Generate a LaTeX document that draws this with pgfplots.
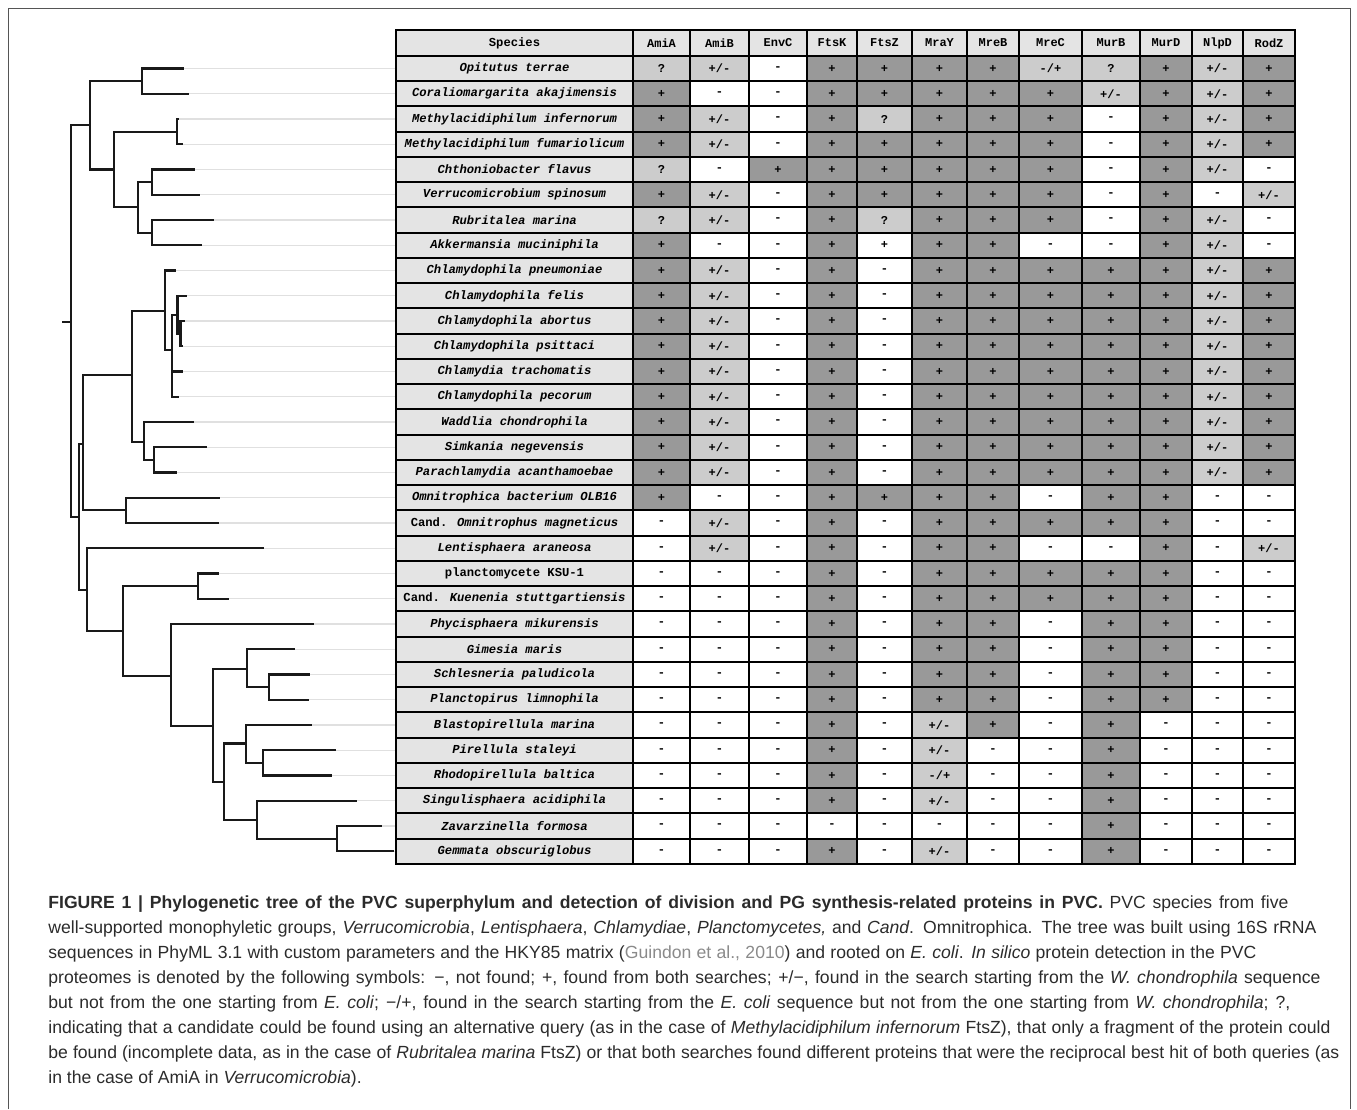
\documentclass[border=0pt]{standalone}
\usepackage{pgfplots}
\pgfplotsset{compat=1.18}
\usepackage{pgfplotstable}
\usepackage{fontspec}
\setmainfont{Liberation Sans}
\newfontfamily\tabfont{Liberation Mono}
\definecolor{dg}{HTML}{999999}
\definecolor{lg}{HTML}{CCCCCC}
\definecolor{sp}{HTML}{E4E4E4}
\definecolor{guide}{HTML}{E0E0E0}
\definecolor{capc}{HTML}{2B2B2B}
\definecolor{citec}{HTML}{8A8A8A}
\definecolor{framec}{HTML}{555555}

\pgfdeclareplotmark{cell}{%
  \pgfpathrectanglecorners{\pgfpoint{-\pgfplotmarksize}{-6.3125pt}}{\pgfpoint{\pgfplotmarksize}{6.3125pt}}%
  \pgfusepathqfillstroke}

\expandafter\def\csname sym@P\endcsname{+}
\expandafter\def\csname sym@p\endcsname{+}
\expandafter\def\csname sym@M\endcsname{-}
\expandafter\def\csname sym@Q\endcsname{?}
\expandafter\def\csname sym@PM\endcsname{+/-}
\expandafter\def\csname sym@MP\endcsname{-/+}
\newcommand\sym[1]{\ifcsname sym@#1\endcsname\csname sym@#1\endcsname\else #1\fi}

% symbols: P = +, p = + (white cell), M = -, Q = ?, PM = +/-, MP = -/+
\pgfplotstableread{
y AmiA AmiB EnvC FtsK FtsZ MraY MreB MreC MurB MurD NlpD RodZ
42.9 AmiA AmiB EnvC FtsK FtsZ MraY MreB MreC MurB MurD NlpD RodZ
68.5 Q PM M P P P P MP Q P PM P
93.75 P M M P P P P P PM P PM P
119 P PM M P Q P P P M P PM P
144.25 P PM M P P P P P M P PM P
169.5 Q M P P P P P P M P PM M
194.75 P PM M P P P P P M P M PM
220 Q PM M P Q P P P M P PM M
245.25 P M M P p P P M M P PM M
270.5 P PM M P M P P P P P PM P
295.75 P PM M P M P P P P P PM P
321 P PM M P M P P P P P PM P
346.25 P PM M P M P P P P P PM P
371.5 P PM M P M P P P P P PM P
396.75 P PM M P M P P P P P PM P
422 P PM M P M P P P P P PM P
447.25 P PM M P M P P P P P PM P
472.5 P PM M P M P P P P P PM P
497.75 P M M P P P P M P P M M
523 M PM M P M P P P P P M M
548.25 M PM M P M P P M M P M PM
573.5 M M M P M P P P P P M M
598.75 M M M P M P P P P P M M
624 M M M P M P P M P P M M
649.25 M M M P M P P M P P M M
674.5 M M M P M P P M P P M M
699.75 M M M P M P P M P P M M
725 M M M P M PM P M P M M M
750.25 M M M P M PM M M P M M M
775.5 M M M P M MP M M P M M M
800.75 M M M P M PM M M P M M M
826 M M M M M M M M P M M M
851.25 M M M P M PM M M P M M M
}\cells

% cell shading: 0 white, 1 light grey, 2 dark grey, 3 header
\pgfplotstableread{
y AmiA AmiB EnvC FtsK FtsZ MraY MreB MreC MurB MurD NlpD RodZ
42.9 3 3 3 3 3 3 3 3 3 3 3 3
68.5 1 1 0 2 2 2 2 1 1 2 1 2
93.75 2 0 0 2 2 2 2 2 1 2 1 2
119 2 1 0 2 1 2 2 2 0 2 1 2
144.25 2 1 0 2 2 2 2 2 0 2 1 2
169.5 1 0 2 2 2 2 2 2 0 2 1 0
194.75 2 1 0 2 2 2 2 2 0 2 0 1
220 1 1 0 2 1 2 2 2 0 2 1 0
245.25 2 0 0 2 0 2 2 0 0 2 1 0
270.5 2 1 0 2 0 2 2 2 2 2 1 2
295.75 2 1 0 2 0 2 2 2 2 2 1 2
321 2 1 0 2 0 2 2 2 2 2 1 2
346.25 2 1 0 2 0 2 2 2 2 2 1 2
371.5 2 1 0 2 0 2 2 2 2 2 1 2
396.75 2 1 0 2 0 2 2 2 2 2 1 2
422 2 1 0 2 0 2 2 2 2 2 1 2
447.25 2 1 0 2 0 2 2 2 2 2 1 2
472.5 2 1 0 2 0 2 2 2 2 2 1 2
497.75 2 0 0 2 2 2 2 0 2 2 0 0
523 0 1 0 2 0 2 2 2 2 2 0 0
548.25 0 1 0 2 0 2 2 0 0 2 0 1
573.5 0 0 0 2 0 2 2 2 2 2 0 0
598.75 0 0 0 2 0 2 2 2 2 2 0 0
624 0 0 0 2 0 2 2 0 2 2 0 0
649.25 0 0 0 2 0 2 2 0 2 2 0 0
674.5 0 0 0 2 0 2 2 0 2 2 0 0
699.75 0 0 0 2 0 2 2 0 2 2 0 0
725 0 0 0 2 0 1 2 0 2 0 0 0
750.25 0 0 0 2 0 1 0 0 2 0 0 0
775.5 0 0 0 2 0 1 0 0 2 0 0 0
800.75 0 0 0 2 0 1 0 0 2 0 0 0
826 0 0 0 0 0 0 0 0 2 0 0 0
851.25 0 0 0 2 0 1 0 0 2 0 0 0
}\fills

\pgfplotstableread[col sep=comma]{
y,tip,name
42.9,396,\textup{Species}
68.5,183,Opitutus terrae
93.75,188,Coraliomargarita akajimensis
119,178,Methylacidiphilum infernorum
144.25,181.7,Methylacidiphilum fumariolicum
169.5,194,Chthoniobacter flavus
194.75,199,Verrucomicrobium spinosum
220,212.7,Rubritalea marina
245.25,201,Akkermansia muciniphila
270.5,175,Chlamydophila pneumoniae
295.75,186,Chlamydophila felis
321,184,Chlamydophila abortus
346.25,181.5,Chlamydophila psittaci
371.5,181.7,Chlamydia trachomatis
396.75,178.3,Chlamydophila pecorum
422,192.7,Waddlia chondrophila
447.25,206,Simkania negevensis
472.5,176,Parachlamydia acanthamoebae
497.75,219.3,Omnitrophica bacterium OLB16
523,218.3,\textup{Cand.} Omnitrophus magneticus
548.25,263.3,Lentisphaera araneosa
573.5,218.3,\textup{planctomycete KSU-1}
598.75,227.7,\textup{Cand.} Kuenenia stuttgartiensis
624,312.7,Phycisphaera mikurensis
649.25,294.3,Gimesia maris
674.5,309.3,Schlesneria paludicola
699.75,308.3,Planctopirus limnophila
725,310.7,Blastopirellula marina
750.25,335,Pirellula staleyi
775.5,330.7,Rhodopirellula baltica
800.75,356,Singulisphaera acidiphila
826,381,Zavarzinella formosa
851.25,392.7,Gemmata obscuriglobus
}\species

\newcommand\col[3]{%
  \addplot[scatter, only marks, mark=cell, mark size=#3pt, point meta=explicit,
    point meta min=0, point meta max=3,
    scatter/use mapped color={draw=black, fill=mapped color},
    mark options={line width=0.9pt}] table[x expr=#2, y=y, meta=#1] {\fills};
  \addplot[draw=none, mark=none, point meta=explicit symbolic,
    nodes near coords={\sym{\pgfplotspointmeta}}, nodes near coords align=center,
    every node near coord/.append style={font=\tabfont\bfseries\fontsize{6}{7}\selectfont, text=black, inner sep=0pt}]
    table[x expr=#2, y=y, meta=#1] {\cells};
}

\begin{document}
\begin{tikzpicture}
\begin{axis}[
  scale only axis, width=678.5pt, height=554.5pt,
  xmin=0, xmax=1357, ymin=0, ymax=1109, y dir=reverse,
  hide axis, clip=false,
  colormap={cellmap}{color=(white) color=(lg) color=(dg) color=(sp)},
  tree/.style={black!90, line width=1.05pt, mark=none, line cap=rect},
]
\path (axis cs:0,0) rectangle (axis cs:1357,1109);

% guide lines from leaf tips to the table
\addplot[draw=none, mark=none, error bars/.cd, x dir=plus, x explicit, error mark=none,
  error bar style={guide, line width=0.6pt}] table[x=tip, y=y, x error expr=396-\thisrow{tip}] {\species};

% tree
\addplot[tree] coordinates {(63.3,321.7) (71,321.7)};
\addplot[tree] coordinates {(90,125.3) (71,125.3) (71,517.3) (79,517.3)};
\addplot[tree] coordinates {(183,68.5) (142,68.5) (142,93.75) (188,93.75)};
\addplot[tree] coordinates {(142,81.1) (90,81.1) (90,169.5) (114.3,169.5)};
\addplot[tree] coordinates {(176.7,131.6) (114.3,131.6) (114.3,207.4) (137.7,207.4)};
\addplot[tree] coordinates {(178,119) (176.7,119) (176.7,144.25) (181.7,144.25)};
\addplot[tree] coordinates {(151.7,182.1) (137.7,182.1) (137.7,232.6) (152.3,232.6)};
\addplot[tree] coordinates {(194,169.5) (151.7,169.5) (151.7,194.75) (199,194.75)};
\addplot[tree] coordinates {(212.7,220) (152.3,220) (152.3,245.25) (201,245.25)};
\addplot[tree] coordinates {(83.3,444) (79,444) (79,590) (87.3,590)};
\addplot[tree] coordinates {(132.3,375) (83.3,375) (83.3,510.4) (126,510.4)};
\addplot[tree] coordinates {(219.3,497.75) (126,497.75) (126,523) (218.3,523)};
\addplot[tree] coordinates {(165,311) (132.3,311) (132.3,441.7) (144,441.7)};
\addplot[tree] coordinates {(175,270.5) (165,270.5) (165,350) (171.7,350)};
\addplot[tree] coordinates {(177.5,315) (171.7,315) (171.7,396.75) (178.3,396.75)};
\addplot[tree] coordinates {(171.7,371.5) (181.7,371.5)};
\addplot[tree] coordinates {(186,295.75) (177.5,295.75) (177.5,334) (180.5,334)};
\addplot[tree] coordinates {(184,321) (180.5,321) (180.5,346.25) (181.5,346.25)};
\addplot[tree] coordinates {(192.7,422) (144,422) (144,460) (154.3,460)};
\addplot[tree] coordinates {(206,447.25) (154.3,447.25) (154.3,472.5) (176,472.5)};
\addplot[tree] coordinates {(263.3,548.25) (87.3,548.25) (87.3,631) (123.3,631)};
\addplot[tree] coordinates {(198.3,586.1) (123.3,586.1) (123.3,675.7) (170.7,675.7)};
\addplot[tree] coordinates {(218.3,573.5) (198.3,573.5) (198.3,598.75) (227.7,598.75)};
\addplot[tree] coordinates {(312.7,624) (170.7,624) (170.7,725.7) (213.3,725.7)};
\addplot[tree] coordinates {(246.7,668.6) (213.3,668.6) (213.3,781.7) (224,781.7)};
\addplot[tree] coordinates {(294.3,649.25) (246.7,649.25) (246.7,687.1) (269.3,687.1)};
\addplot[tree] coordinates {(309.3,674.5) (269.3,674.5) (269.3,699.75) (308.3,699.75)};
\addplot[tree] coordinates {(246,743.5) (224,743.5) (224,819.6) (256.7,819.6)};
\addplot[tree] coordinates {(310.7,725) (246,725) (246,762.9) (263.3,762.9)};
\addplot[tree] coordinates {(335,750.25) (263.3,750.25) (263.3,775.5) (330.7,775.5)};
\addplot[tree] coordinates {(356,800.75) (256.7,800.75) (256.7,838.6) (337.3,838.6)};
\addplot[tree] coordinates {(381,826) (337.3,826) (337.3,851.25) (392.7,851.25)};

% table: species column
\addplot[only marks, mark=cell, mark size=59.25pt, mark options={draw=black, fill=sp, line width=0.9pt}]
  table[x expr=514.5, y=y] {\cells};
\addplot[draw=none, mark=none, point meta=explicit symbolic, nodes near coords={\pgfplotspointmeta},
  nodes near coords align=center,
  every node near coord/.append style={font=\tabfont\bfseries\itshape\fontsize{6.1}{7}\selectfont, text=black, inner sep=0pt}]
  table[x expr=514.5, y=y, meta=name] {\species};

% table: protein columns
\col{AmiA}{661.5}{14.25}
\col{AmiB}{719.5}{14.75}
\col{EnvC}{778}{14.5}
\col{FtsK}{832}{12.5}
\col{FtsZ}{884.5}{13.75}
\col{MraY}{939.5}{13.75}
\col{MreB}{993}{13}
\col{MreC}{1050.5}{15.75}
\col{MurB}{1111}{14.5}
\col{MurD}{1166}{13}
\col{NlpD}{1217.5}{12.75}
\col{RodZ}{1269}{13}

% group separators
\addplot[black, line width=1.7pt, mark=none] coordinates {(396,257.9) (1295,257.9)};
\addplot[black, line width=1.7pt, mark=none] coordinates {(396,485.1) (1295,485.1)};
\addplot[black, line width=1.7pt, mark=none] coordinates {(396,535.6) (1295,535.6)};
\addplot[black, line width=1.7pt, mark=none] coordinates {(396,560.9) (1295,560.9)};

% frame
\draw[framec, line width=0.8pt] (axis cs:8.5,1109) -- (axis cs:8.5,8.5) -- (axis cs:1350.5,8.5) -- (axis cs:1350.5,1109);

% caption
\begin{scope}[every node/.style={anchor=base west, inner sep=0pt, text=capc, font=\fontsize{8.8}{10}\selectfont}]
\node at (axis cs:48,908.3) {\makebox[620pt][s]{\textbf{FIGURE 1 | Phylogenetic tree of the PVC superphylum and detection of division and PG synthesis-related proteins in PVC.} PVC species from five}};
\node at (axis cs:48,933.3) {\makebox[634pt][s]{well-supported monophyletic groups, \textit{Verrucomicrobia}, \textit{Lentisphaera}, \textit{Chlamydiae}, \textit{Planctomycetes,} and \textit{Cand}. Omnitrophica. The tree was built using 16S rRNA}};
\node at (axis cs:48,958.3) {\makebox[604pt][s]{sequences in PhyML 3.1 with custom parameters and the HKY85 matrix (\textcolor{citec}{Guindon et al., 2010}) and rooted on \textit{E. coli}. \textit{In silico} protein detection in the PVC}};
\node at (axis cs:48,983.3) {\makebox[636pt][s]{proteomes is denoted by the following symbols: −, not found; +, found from both searches; +/−, found in the search starting from the \textit{W. chondrophila} sequence}};
\node at (axis cs:48,1008.3) {\makebox[621pt][s]{but not from the one starting from \textit{E. coli}; −/+, found in the search starting from the \textit{E. coli} sequence but not from the one starting from \textit{W. chondrophila}; ?,}};
\node at (axis cs:48,1033.3) {\makebox[641pt][s]{indicating that a candidate could be found using an alternative query (as in the case of \textit{Methylacidiphilum infernorum} FtsZ), that only a fragment of the protein could}};
\node at (axis cs:48,1058.3) {\makebox[645.5pt][s]{be found (incomplete data, as in the case of \textit{Rubritalea marina} FtsZ) or that both searches found different proteins that were the reciprocal best hit of both queries (as}};
\node at (axis cs:48,1083.3) {in the case of AmiA in \textit{Verrucomicrobia}).};
\end{scope}
\end{axis}
\end{tikzpicture}
\end{document}
